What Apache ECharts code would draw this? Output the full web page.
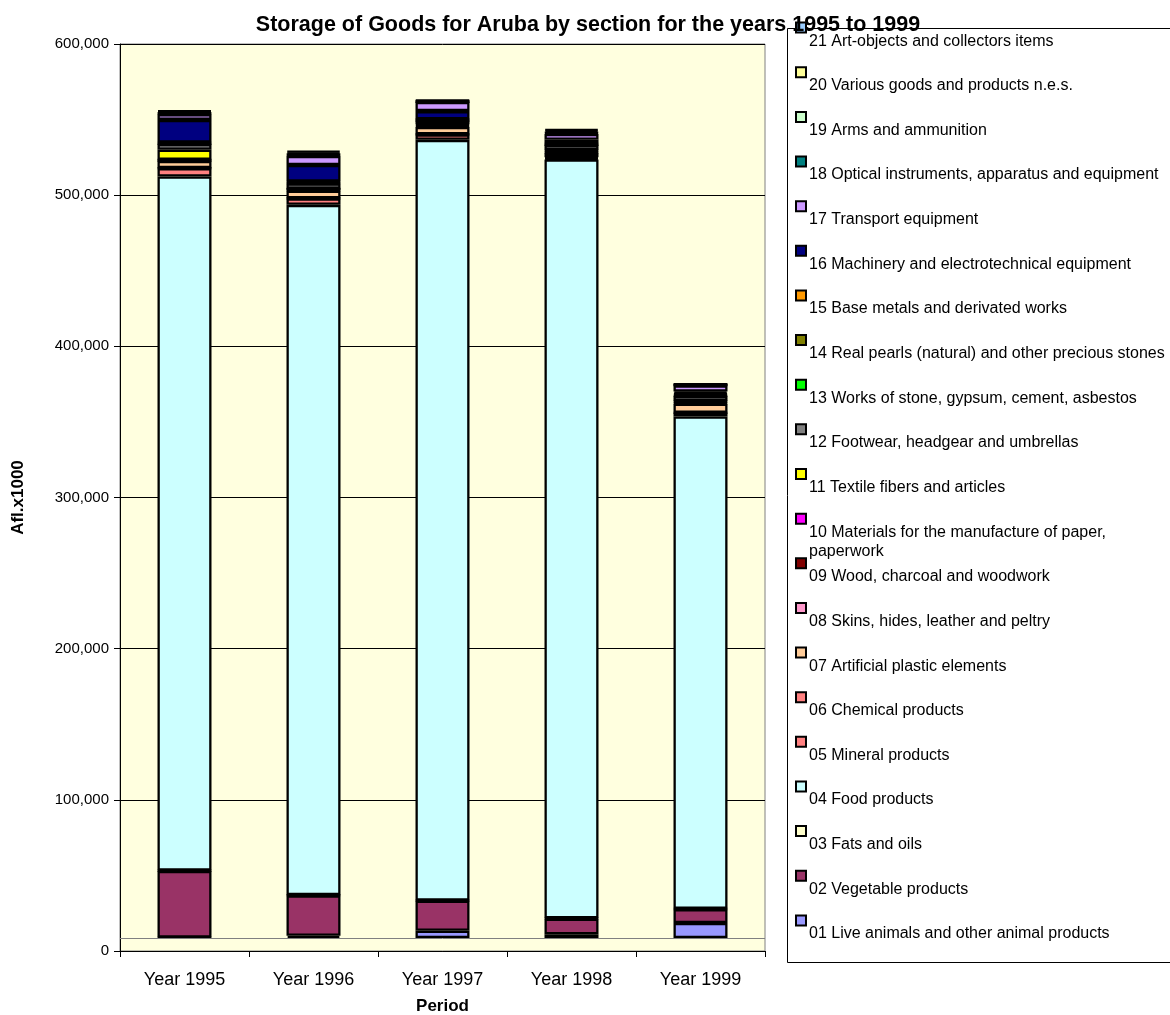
<!DOCTYPE html>
<html>
<head>
<meta charset="utf-8">
<script src="https://cdn.jsdelivr.net/npm/echarts@6/dist/echarts.min.js"></script>
<style>
html,body{margin:0;padding:0;background:#fff;}
#chart{width:1170px;height:1015px;}
</style>
</head>
<body>
<div id="chart"></div>
<script>
// ---- data (Afl. x1000) ----
const years = ['Year 1995', 'Year 1996', 'Year 1997', 'Year 1998', 'Year 1999'];
const yTicks = [0, 100000, 200000, 300000, 400000, 500000, 600000];

const sectionNames = [
  '01 Live animals and other animal products',
  '02 Vegetable products',
  '03 Fats and oils',
  '04 Food products',
  '05 Mineral products',
  '06 Chemical products',
  '07 Artificial plastic elements',
  '08 Skins, hides, leather and peltry',
  '09 Wood, charcoal and woodwork',
  '10 Materials for the manufacture of paper,\npaperwork',
  '11 Textile fibers and articles',
  '12 Footwear, headgear and umbrellas',
  '13 Works of stone, gypsum, cement, asbestos',
  '14 Real pearls (natural) and other precious stones',
  '15 Base metals and derivated works',
  '16 Machinery and electrotechnical equipment',
  '17 Transport equipment',
  '18 Optical instruments, apparatus and equipment',
  '19 Arms and ammunition',
  '20 Various goods and products n.e.s.',
  '21 Art-objects and collectors items'
];

const s01 = [300, 1500, 4800, 2500, 9900];
const s02 = [44100, 26700, 19800, 10300, 9200];
const s03 = [200, 200, 200, 300, 200];
const s04 = [459100, 456600, 503200, 501900, 325700];
const s05 = [5500, 4200, 3500, 800, 2300];
const s06 = [100, 100, 100, 700, 100];
const s07 = [4700, 5000, 5000, 2900, 6100];
const s08 = [300, 400, 500, 400, 400];
const s09 = [300, 500, 700, 600, 600];
const s10 = [200, 200, 400, 300, 300];
const s11 = [6600, 200, 500, 500, 500];
const s12 = [3800, 3600, 2000, 3400, 3400];
const s13 = [200, 300, 200, 200, 300];
const s14 = [500, 500, 400, 400, 800];
const s15 = [300, 400, 300, 300, 500];
const s16 = [15000, 11000, 5400, 2600, 1200];
const s17 = [3800, 6000, 6000, 3800, 4000];
const s18 = [500, 800, 300, 700, 300];
const s19 = [200, 200, 100, 300, 100];
const s20 = [1000, 1300, 500, 1200, 400];
const s21 = [700, 1000, 300, 900, 200];

const seriesValues = [s01, s02, s03, s04, s05, s06, s07, s08, s09, s10, s11,
  s12, s13, s14, s15, s16, s17, s18, s19, s20, s21];

const colors = ['#9999FF', '#993366', '#FFFFCC', '#CCFFFF', '#FF8080', '#FF8080',
  '#FFCC99', '#FF99CC', '#800000', '#FF00FF', '#FFFF00', '#808080', '#00FF00',
  '#808000', '#FF9900', '#000080', '#CC99FF', '#008080', '#CCFFCC', '#FFFF99', '#99CCFF'];

// ---- chart ----
const FONT = '"Liberation Sans", Arial, sans-serif';
const chart = echarts.init(document.getElementById('chart'), null, {renderer: 'canvas'});

const series = seriesValues.map((vals, i) => {
  const s = {
    name: sectionNames[i],
    type: 'bar',
    stack: 'total',
    yAxisIndex: 1,
    barWidth: 54,
    data: vals,
    itemStyle: {color: colors[i], borderColor: '#000', borderWidth: 2.3},
    emphasis: {disabled: true}
  };
  if (i === 0) {
    s.markLine = {
      silent: true, symbol: 'none', label: {show: false},
      lineStyle: {color: '#808080', width: 1, type: 'solid'},
      data: [{yAxis: 0}]
    };
  }
  return s;
});

// legend drawn as graphic (marker above-left of its text, as in the reference)
const legendEls = [{
  type: 'rect', shape: {x: 787.5, y: 28.5, width: 420, height: 934},
  style: {fill: '#fff', stroke: '#000', lineWidth: 1}, z: 0
}];
for (let k = 0; k < sectionNames.length; k++) {
  const i = sectionNames.length - 1 - k;
  const c = 27.6 + 44.64 * k;
  legendEls.push({
    type: 'rect', shape: {x: 796, y: c - 5, width: 10, height: 10},
    style: {fill: colors[i], stroke: '#000', lineWidth: 2}, z: 2
  });
  legendEls.push({
    type: 'text', x: 809, y: c + 3.8,
    style: {text: sectionNames[i], fill: '#000', font: '16px ' + FONT,
      lineHeight: 19.5, verticalAlign: 'top', align: 'left'}, z: 2
  });
}

chart.setOption({
  animation: false,
  backgroundColor: '#fff',
  title: {
    text: 'Storage of Goods for Aruba by section for the years 1995 to 1999',
    left: 583, textAlign: 'center', top: 9,
    textStyle: {fontFamily: FONT, fontSize: 21.5, fontWeight: 'bold', color: '#000'},
    z: 10
  },
  grid: {
    left: 120, top: 44, width: 645, height: 907,
    outerBoundsMode: 'none', containLabel: false,
    show: true, backgroundColor: '#FFFFDF', borderColor: '#808080', borderWidth: 1
  },
  xAxis: {
    type: 'category',
    data: years,
    name: 'Period', nameLocation: 'middle', nameGap: 47,
    nameTextStyle: {fontFamily: FONT, fontSize: 17, fontWeight: 'bold', color: '#000'},
    axisLine: {lineStyle: {color: '#000', width: 1}},
    axisTick: {show: true, length: 6, lineStyle: {color: '#000'}},
    axisLabel: {fontFamily: FONT, fontSize: 18, color: '#000', margin: 20}
  },
  yAxis: [{
    type: 'value',
    min: yTicks[0], max: yTicks[yTicks.length - 1], interval: yTicks[1] - yTicks[0],
    name: 'Afl.x1000', nameLocation: 'middle', nameGap: 93, nameRotate: 90,
    nameTextStyle: {fontFamily: FONT, fontSize: 17, fontWeight: 'bold', color: '#000'},
    axisLine: {show: true, lineStyle: {color: '#000', width: 1}},
    axisTick: {show: true, length: 6, lineStyle: {color: '#000'}},
    splitLine: {show: true, lineStyle: {color: '#000', width: 1}},
    axisLabel: {fontFamily: FONT, fontSize: 15, color: '#000', margin: 11,
      formatter: v => v.toLocaleString('en-US')}
  }, {
    // bars stand on the chart floor, slightly above the front axis line
    type: 'value', show: false,
    min: -8600, max: 591400,
    splitLine: {show: false}
  }],
  series: series,
  graphic: legendEls
});
</script>
</body>
</html>
